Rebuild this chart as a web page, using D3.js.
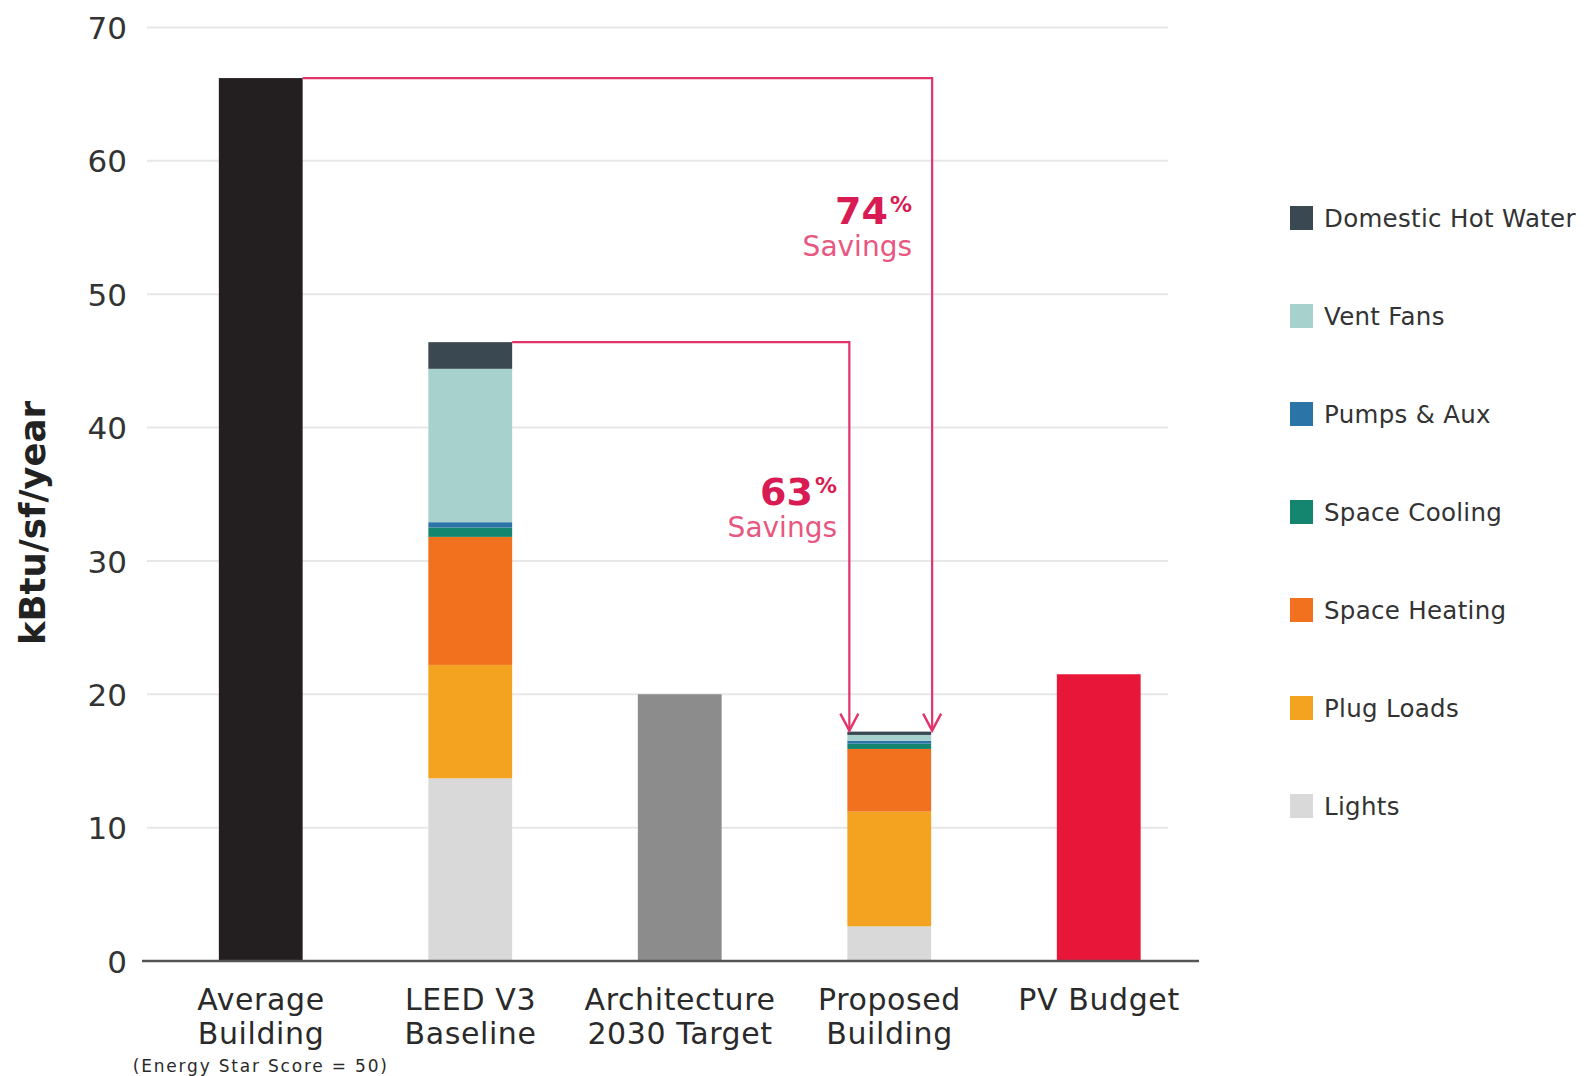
<!DOCTYPE html>
<html>
<head>
<meta charset="utf-8">
<script src="https://cdn.jsdelivr.net/npm/d3@7/dist/d3.min.js"></script>
<style>
  html, body { margin: 0; padding: 0; background: #ffffff; }
  svg { display: block; }
</style>
</head>
<body>
<svg id="chart" width="1593" height="1076"></svg>
<script>
// Building energy use intensity, kBtu per square foot per year
const categories = ["Average Building", "LEED V3 Baseline", "Architecture 2030 Target", "Proposed Building", "PV Budget"];
const categoryLines = [["Average", "Building"], ["LEED V3", "Baseline"], ["Architecture", "2030 Target"], ["Proposed", "Building"], ["PV Budget"]];
const categoryNote = "(Energy Star Score = 50)";

// End uses, bottom of the stack first
const endUses = ["Lights", "Plug Loads", "Space Heating", "Space Cooling", "Pumps & Aux", "Vent Fans", "Domestic Hot Water"];
const endUseColors = ["#d9d9d9", "#f3a31f", "#f2711f", "#14866f", "#2b74a8", "#a6d1cc", "#3a4852"];
const leedBaseline = [13.7, 8.5, 9.6, 0.7, 0.4, 11.5, 2.0];
const proposedBuilding = [2.6, 8.6, 4.7, 0.4, 0.2, 0.45, 0.25];

// Single-value bars
const singleBars = [
  { category: "Average Building", value: 66.2, color: "#231f20" },
  { category: "Architecture 2030 Target", value: 20, color: "#8c8c8c" },
  { category: "PV Budget", value: 21.5, color: "#e8173a" }
];

const yTicks = [0, 10, 20, 30, 40, 50, 60, 70];
const savingsLabels = ["74", "63"];

const svg = d3.select("#chart");
const pink = "#e3336a";

const x = d3.scaleBand().domain(categories).range([156, 1203.5]).paddingInner(0.6).paddingOuter(0.3);
const y = d3.scaleLinear().domain([0, 70]).range([961, 27.4]);

// Gridlines
svg.append("g")
  .selectAll("line")
  .data(yTicks.filter(d => d > 0))
  .join("line")
  .attr("x1", 147).attr("x2", 1168)
  .attr("y1", d => y(d)).attr("y2", d => y(d))
  .attr("stroke", "#e7e7e7").attr("stroke-width", 2);

// Y axis labels
const yAxis = d3.axisLeft(y).tickValues(yTicks).tickSize(0).tickPadding(0);
const yg = svg.append("g").attr("transform", "translate(127,0)").call(yAxis);
yg.select(".domain").remove();
yg.selectAll("text")
  .attr("font-family", "DejaVu Sans")
  .attr("font-size", 31)
  .attr("fill", "#333")
  .attr("dy", "0.36em");

// Y axis title
svg.append("text")
  .attr("transform", "translate(45,523) rotate(-90)")
  .attr("text-anchor", "middle")
  .attr("font-family", "DejaVu Sans")
  .attr("font-weight", "bold")
  .attr("font-size", 35.5)
  .attr("fill", "#222")
  .text("kBtu/sf/year");

// Single bars
svg.append("g")
  .selectAll("rect")
  .data(singleBars)
  .join("rect")
  .attr("x", d => x(d.category))
  .attr("width", x.bandwidth())
  .attr("y", d => y(d.value))
  .attr("height", d => y(0) - y(d.value))
  .attr("fill", d => d.color);

// Stacked bars
function stackedBar(category, values) {
  let base = 0;
  const segs = values.map((v, i) => {
    const s = { y0: base, y1: base + v, color: endUseColors[i] };
    base += v;
    return s;
  });
  svg.append("g")
    .selectAll("rect")
    .data(segs)
    .join("rect")
    .attr("x", x(category))
    .attr("width", x.bandwidth())
    .attr("y", d => y(d.y1))
    .attr("height", d => y(d.y0) - y(d.y1))
    .attr("fill", d => d.color);
  return base;
}
const leedTotal = stackedBar("LEED V3 Baseline", leedBaseline);
const proposedTotal = stackedBar("Proposed Building", proposedBuilding);

// Baseline
svg.append("line")
  .attr("x1", 142).attr("x2", 1199)
  .attr("y1", y(0)).attr("y2", y(0))
  .attr("stroke", "#555").attr("stroke-width", 2.5);

// Savings arrows
const avgTotal = singleBars[0].value;
function savingsArrow(fromCat, fromValue, xEnd) {
  const x0 = x(fromCat) + x.bandwidth();
  const yTop = y(fromValue);
  const yTip = y(proposedTotal) - 1;
  svg.append("path")
    .attr("d", `M${x0},${yTop}H${xEnd}V${yTip}`)
    .attr("fill", "none").attr("stroke", pink).attr("stroke-width", 2.2);
  svg.append("path")
    .attr("d", `M${xEnd - 9},${yTip - 17}L${xEnd},${yTip}L${xEnd + 9},${yTip - 17}`)
    .attr("fill", "none").attr("stroke", pink).attr("stroke-width", 2.4)
    .attr("stroke-linejoin", "miter");
}
savingsArrow("Average Building", avgTotal, x("Proposed Building") + x.bandwidth() + 1);
savingsArrow("LEED V3 Baseline", leedTotal, x("Proposed Building") + 2);

// Savings labels
function savingsLabel(pct, xRight, baseline) {
  const t = svg.append("text")
    .attr("x", xRight).attr("y", baseline)
    .attr("text-anchor", "end")
    .attr("font-family", "DejaVu Sans")
    .attr("fill", "#d81b52");
  t.append("tspan").attr("font-weight", "bold").attr("font-size", 38).text(pct);
  t.append("tspan").attr("font-weight", "bold").attr("font-size", 22).attr("dx", 2).attr("dy", -12).text("%");
  svg.append("text")
    .attr("x", xRight).attr("y", baseline + 32)
    .attr("text-anchor", "end")
    .attr("font-family", "DejaVu Sans")
    .attr("font-size", 28)
    .attr("fill", "#e8577f")
    .text("Savings");
}
savingsLabel(savingsLabels[0], 912, 224);
savingsLabel(savingsLabels[1], 837, 505);

// Category labels
const catG = svg.append("g");
categories.forEach((c, i) => {
  const cx = x(c) + x.bandwidth() / 2;
  categoryLines[i].forEach((line, j) => {
    catG.append("text")
      .attr("x", cx + 0.3).attr("y", 1010 + j * 34)
      .attr("text-anchor", "middle")
      .attr("font-family", "DejaVu Sans")
      .attr("font-size", 30)
      .attr("letter-spacing", 0.6)
      .attr("fill", "#2a2a2a")
      .text(line);
  });
});
catG.append("text")
  .attr("x", x("Average Building") + x.bandwidth() / 2)
  .attr("y", 1072)
  .attr("text-anchor", "middle")
  .attr("font-family", "DejaVu Sans")
  .attr("font-size", 17)
  .attr("letter-spacing", 1.8)
  .attr("fill", "#2a2a2a")
  .text(categoryNote);

// Legend, top of stack first
const legendItems = endUses.map((u, i) => ({ name: u, color: endUseColors[i] })).reverse();
const lg = svg.append("g")
  .selectAll("g")
  .data(legendItems)
  .join("g")
  .attr("transform", (d, i) => `translate(1290,${218 + i * 98})`);
lg.append("rect")
  .attr("x", 0).attr("y", -12).attr("width", 23).attr("height", 24)
  .attr("fill", d => d.color);
lg.append("text")
  .attr("x", 34).attr("y", 0).attr("dy", "0.36em")
  .attr("font-family", "DejaVu Sans")
  .attr("font-size", 24.5)
  .attr("letter-spacing", 0.3)
  .attr("fill", "#333")
  .text(d => d.name);
</script>
</body>
</html>
